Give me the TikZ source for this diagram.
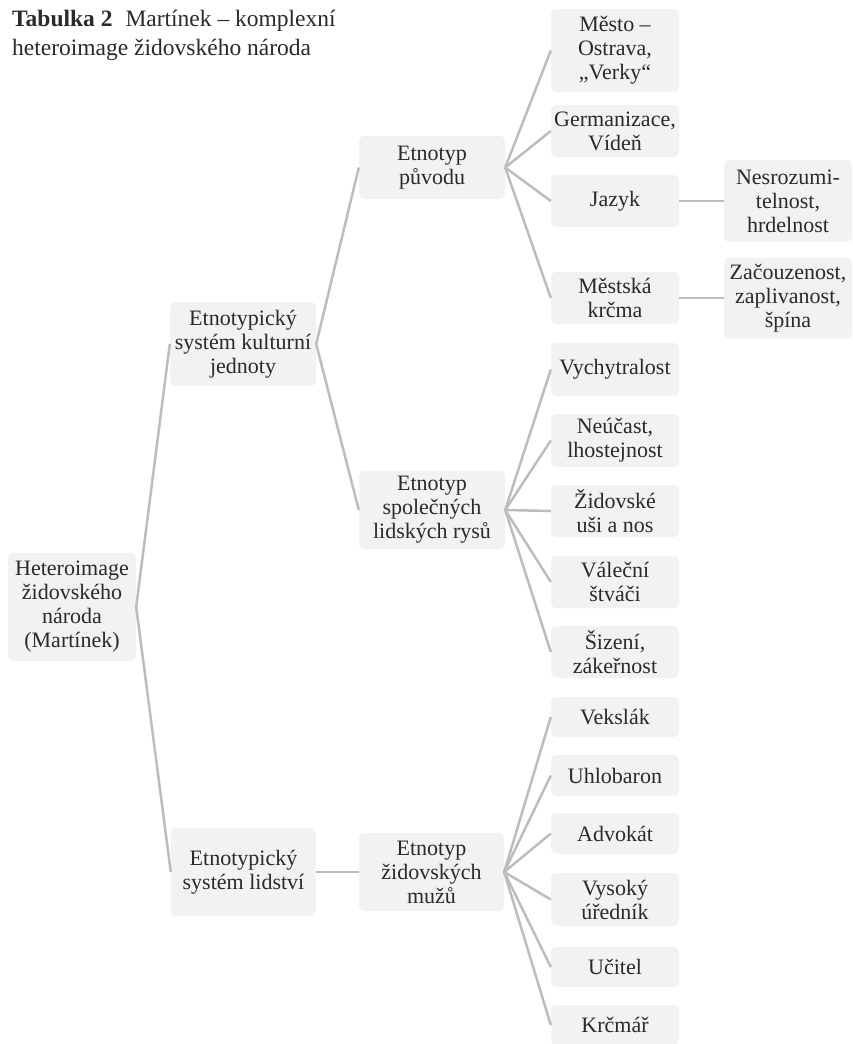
\documentclass[tikz,border=0pt]{standalone}
\usepackage{fontspec}
\setmainfont{Liberation Serif}
\definecolor{boxfill}{HTML}{F1F2F4}
\definecolor{linecol}{HTML}{BDBDBF}
\definecolor{textcol}{HTML}{2A2A2A}
\tikzset{
  box/.style={fill=boxfill, rounded corners=5pt, inner sep=1pt, align=center,
    text=textcol, font=\fontsize{22pt}{24pt}\selectfont},
  leaf/.style={box, minimum width=128pt},
  mid/.style={box, minimum width=146pt},
  conn/.style={draw=linecol, line width=2.5pt},
  ttl/.style={inner sep=0pt, anchor=base west, text=textcol, font=\fontsize{23.5pt}{28pt}\selectfont}
}
\begin{document}
\begin{tikzpicture}[x=1pt,y=-1pt]
\useasboundingbox (0,0) rectangle (852,1044);
% title
\node[ttl] (t1) at (12,27) {\textbf{Tabulka 2}\hspace{0.55em}Martínek – komplexní};
\node[ttl] (t2) at (12,55) {heteroimage židovského národa};
% root and levels
\node[leaf, minimum height=108pt] (R) at (72,607) {Heteroimage\\židovského\\národa\\(Martínek)};
\node[mid, minimum height=84pt] (A) at (243,344) {Etnotypický\\systém kulturní\\jednoty};
\node[mid, minimum height=88pt, minimum width=145pt] (B) at (243.5,872) {Etnotypický\\systém lidství};
\node[mid, minimum height=63pt] (A1) at (432,167.5) {Etnotyp\\původu};
\node[mid, minimum height=78pt] (A2) at (432,510) {Etnotyp\\společných\\lidských rysů};
\node[mid, minimum height=78pt, minimum width=145pt] (B1) at (431.5,872) {Etnotyp\\židovských\\mužů};
% leaves of A1
\node[leaf, minimum height=83pt] (mesto) at (615,50.5) {Město –\\Ostrava,\\„Verky“};
\node[leaf, minimum height=52pt] (germ) at (615,131) {Germanizace,\\Vídeň};
\node[leaf, minimum height=52pt] (jazyk) at (615,201) {Jazyk};
\node[leaf, minimum height=52pt] (krcma) at (615,298) {Městská\\krčma};
\node[leaf, minimum height=82pt] (nesroz) at (788,201) {Nesrozumi-\\telnost,\\hrdelnost};
\node[leaf, minimum height=81pt] (zac) at (788,298) {Začouzenost,\\zaplivanost,\\špína};
% leaves of A2
\node[leaf, minimum height=53pt] (vych) at (615,369.5) {Vychytralost};
\node[leaf, minimum height=53pt] (neuc) at (615,440.5) {Neúčast,\\lhostejnost};
\node[leaf, minimum height=52pt] (zid) at (615,511) {Židovské\\uši a nos};
\node[leaf, minimum height=52pt] (val) at (615,582) {Váleční\\štváči};
\node[leaf, minimum height=52pt] (siz) at (615,652) {Šizení,\\zákeřnost};
% leaves of B1
\node[leaf, minimum height=40pt] (veks) at (615,717) {Vekslák};
\node[leaf, minimum height=41pt] (uhlo) at (615,775.5) {Uhlobaron};
\node[leaf, minimum height=41pt] (advo) at (615,833.5) {Advokát};
\node[leaf, minimum height=53pt] (vys) at (615,899.5) {Vysoký\\úředník};
\node[leaf, minimum height=40pt] (ucit) at (615,967) {Učitel};
\node[leaf, minimum height=40pt] (krcm) at (615,1025) {Krčmář};
% connectors
\draw[conn] (R.east) -- (A.west);
\draw[conn] (R.east) -- (B.west);
\draw[conn] (A.east) -- (A1.west);
\draw[conn] (A.east) -- (A2.west);
\draw[conn] (B.east) -- (B1.west);
\foreach \c in {mesto,germ,jazyk,krcma} \draw[conn] (A1.east) -- (\c.west);
\draw[conn] (jazyk.east) -- (nesroz.west);
\draw[conn] (krcma.east) -- (zac.west);
\foreach \c in {vych,neuc,zid,val,siz} \draw[conn] (A2.east) -- (\c.west);
\foreach \c in {veks,uhlo,advo,vys,ucit,krcm} \draw[conn] (B1.east) -- (\c.west);
\end{tikzpicture}
\end{document}
